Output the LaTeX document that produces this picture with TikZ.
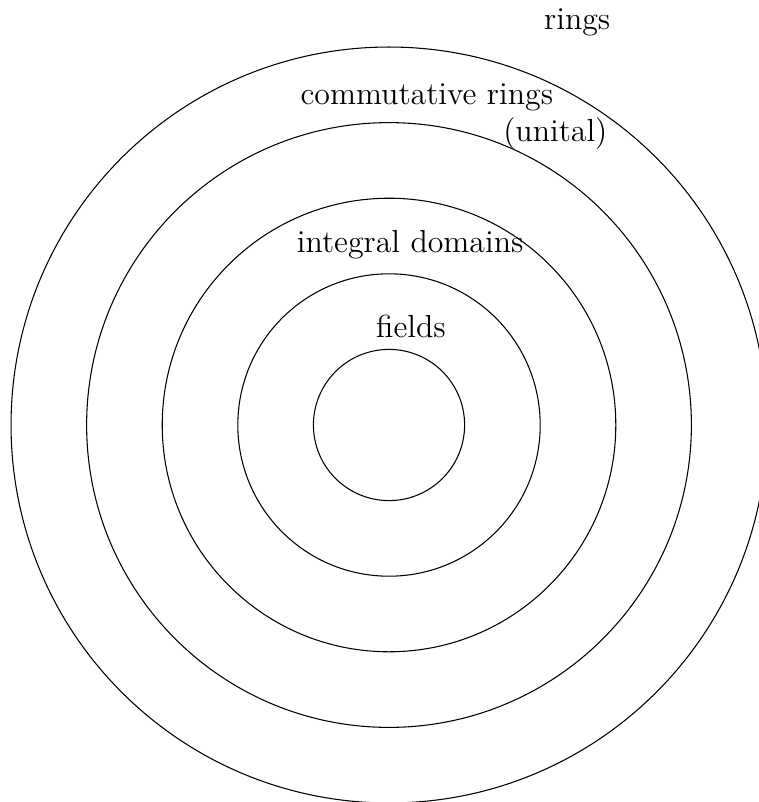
\documentclass[tikz,border=0pt]{standalone}
\usepackage{tikz}
\usetikzlibrary{positioning}

\begin{document}
\begin{tikzpicture}[
  ring/.style={draw, black, line width=0.4pt},
  lbl/.style={font=\large, inner sep=0pt}
]
  \useasboundingbox (-5.146,-4.987) rectangle (4.894,5.622);
  \coordinate (c) at (0,0);

  % nested classes
  \foreach \r in {1,2,3,4,5}
    \draw[ring] (c) circle (\r);

  \node[lbl] (rings) at (2.49,5.32) {rings};
  \node[lbl] (comm) at (0.50,4.34) {commutative rings};
  \node[lbl] (unital) at (2.20,3.86) {(unital)};
  \node[lbl] (domains) at (0.28,2.38) {integral domains};
  \node[lbl] (fields) at (0.29,1.31) {fields};
\end{tikzpicture}
\end{document}
